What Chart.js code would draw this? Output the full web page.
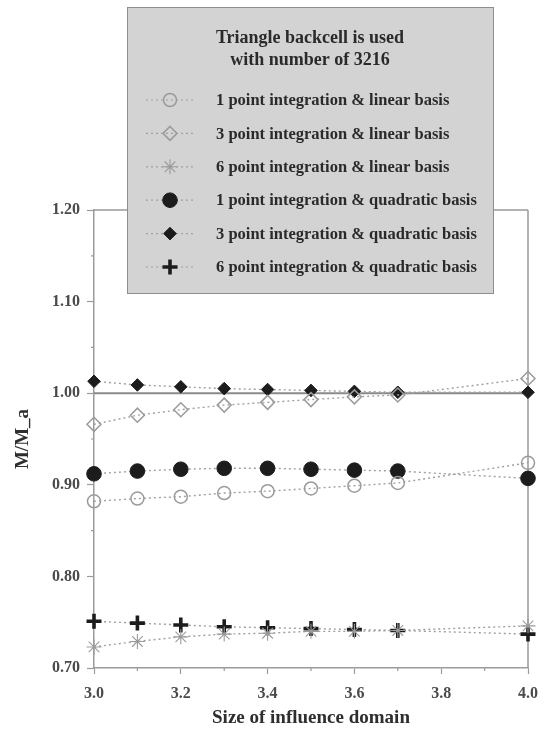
<!DOCTYPE html>
<html>
<head>
<meta charset="utf-8">
<script src="https://cdn.jsdelivr.net/npm/chart.js@4.4.1/dist/chart.umd.min.js"></script>
<style>
  html, body { margin: 0; padding: 0; background: #ffffff; }
  #wrap { width: 548px; height: 729px; }
</style>
</head>
<body>
<div id="wrap"><canvas id="c" width="548" height="729"></canvas></div>
<script>
// Influence-domain sizes (x) and normalised moment M/M_a for each integration scheme
const domainSizes      = [3.0, 3.1, 3.2, 3.3, 3.4, 3.5, 3.6, 3.7, 4.0];
const onePtLinear      = [0.882, 0.885, 0.887, 0.891, 0.893, 0.896, 0.899, 0.902, 0.924];
const threePtLinear    = [0.966, 0.976, 0.982, 0.987, 0.990, 0.993, 0.996, 0.998, 1.016];
const sixPtLinear      = [0.723, 0.729, 0.734, 0.737, 0.738, 0.740, 0.740, 0.741, 0.746];
const onePtQuadratic   = [0.912, 0.915, 0.917, 0.918, 0.918, 0.917, 0.916, 0.915, 0.907];
const threePtQuadratic = [1.013, 1.009, 1.007, 1.005, 1.004, 1.003, 1.002, 1.001, 1.001];
const sixPtQuadratic   = [0.751, 0.749, 0.747, 0.745, 0.744, 0.743, 0.742, 0.741, 0.737];

const seriesLabels = [
  '1 point integration & linear basis',
  '3 point integration & linear basis',
  '6 point integration & linear basis',
  '1 point integration & quadratic basis',
  '3 point integration & quadratic basis',
  '6 point integration & quadratic basis'
];
const legendTitle = ['Triangle backcell is used', 'with number of 3216'];
const xTicks = [3.0, 3.2, 3.4, 3.6, 3.8, 4.0];
const xMinorTicks = [3.1, 3.3, 3.5, 3.7, 3.9];
const yTicks = [0.70, 0.80, 0.90, 1.00, 1.10, 1.20];
const yMinorTicks = [0.75, 0.85, 0.95, 1.05, 1.15];
const referenceValue = 1.00;

const GREY = '#9b9b9b';
const DARK = '#1c1c1c';
const LINE = '#a0a0a0';
const FONT = "'Liberation Serif', 'Times New Roman', serif";

function toPoints(values) {
  return domainSizes.map((x, i) => ({ x: x, y: values[i] }));
}

function series(label, values, style) {
  return {
    label: label,
    data: toPoints(values),
    borderColor: LINE,
    borderWidth: 1.4,
    borderDash: [2, 3],
    fill: false,
    tension: 0,
    clip: false,
    pointStyle: style.shape,
    pointRadius: style.radius,
    pointHoverRadius: style.radius,
    pointBorderWidth: style.width,
    pointBorderColor: style.color,
    pointBackgroundColor: style.fill
  };
}

const styles = [
  { shape: 'circle',  radius: 6.5, width: 1.5, color: GREY, fill: 'rgba(255,255,255,0)' },
  { shape: 'rectRot', radius: 7,   width: 1.5, color: GREY, fill: 'rgba(255,255,255,0)' },
  { shape: 'star',    radius: 7.5, width: 1.1, color: GREY, fill: 'rgba(255,255,255,0)' },
  { shape: 'circle',  radius: 7.3, width: 1,   color: DARK, fill: DARK },
  { shape: 'rectRot', radius: 6.3, width: 1,   color: DARK, fill: DARK },
  { shape: 'cross',   radius: 7.5, width: 3.6, color: DARK, fill: DARK }
];

const valueSets = [onePtLinear, threePtLinear, sixPtLinear, onePtQuadratic, threePtQuadratic, sixPtQuadratic];
const datasets = valueSets.map((v, i) => series(seriesLabels[i], v, styles[i]));

// Frame, reference line at 1.00 and minor ticks
const framePlugin = {
  id: 'frame',
  beforeDatasetsDraw(chart) {
    const { ctx, chartArea: a, scales: { x, y } } = chart;
    ctx.save();
    ctx.strokeStyle = GREY;
    ctx.lineWidth = 1.5;
    ctx.beginPath();
    ctx.moveTo(a.left, a.top); ctx.lineTo(a.right, a.top);
    ctx.moveTo(a.right, a.top); ctx.lineTo(a.right, a.bottom);
    ctx.stroke();

    ctx.lineWidth = 1.2;
    ctx.beginPath();
    xMinorTicks.forEach(v => {
      const px = x.getPixelForValue(v);
      ctx.moveTo(px, a.bottom); ctx.lineTo(px, a.bottom + 3);
    });
    yMinorTicks.forEach(v => {
      const py = y.getPixelForValue(v);
      ctx.moveTo(a.left - 3, py); ctx.lineTo(a.left, py);
    });
    ctx.stroke();

    const ry = y.getPixelForValue(referenceValue);
    ctx.strokeStyle = '#8a8a8a';
    ctx.lineWidth = 2;
    ctx.beginPath();
    ctx.moveTo(a.left, ry); ctx.lineTo(a.right, ry);
    ctx.stroke();
    ctx.restore();
  }
};

function drawMarker(ctx, st, cx, cy) {
  ctx.save();
  ctx.strokeStyle = st.color;
  ctx.fillStyle = st.fill;
  ctx.lineWidth = st.width;
  Chart.helpers.drawPoint(ctx, { pointStyle: st.shape, radius: st.radius, rotation: 0, borderWidth: st.width }, cx, cy);
  ctx.restore();
}

// Boxed legend floating over the top of the plot
const legendBoxPlugin = {
  id: 'legendBox',
  afterDatasetsDraw(chart) {
    const ctx = chart.ctx;
    const box = { left: 127, top: 7, width: 366, height: 286 };
    ctx.save();
    ctx.fillStyle = '#d3d3d3';
    ctx.fillRect(box.left, box.top, box.width, box.height);
    ctx.strokeStyle = '#8e8e8e';
    ctx.lineWidth = 1;
    ctx.strokeRect(box.left + 0.5, box.top + 0.5, box.width, box.height);

    ctx.fillStyle = '#2a2a2a';
    ctx.textAlign = 'center';
    ctx.textBaseline = 'middle';
    ctx.font = 'bold 18px ' + FONT;
    legendTitle.forEach((t, i) => ctx.fillText(t, box.left + box.width / 2, 38 + i * 22));

    ctx.textAlign = 'left';
    ctx.font = 'bold 16.5px ' + FONT;
    chart.data.datasets.forEach((ds, i) => {
      const ry = 100 + i * 33.4;
      ctx.save();
      ctx.strokeStyle = LINE;
      ctx.lineWidth = 1.2;
      ctx.setLineDash([2, 3]);
      ctx.beginPath();
      ctx.moveTo(146, ry); ctx.lineTo(196, ry);
      ctx.stroke();
      ctx.restore();
      drawMarker(ctx, styles[i], 170, ry);
      ctx.fillStyle = '#2a2a2a';
      ctx.fillText(ds.label, 216, ry + 1);
    });
    ctx.restore();
  }
};

new Chart(document.getElementById('c'), {
  type: 'line',
  data: { datasets: datasets },
  plugins: [framePlugin, legendBoxPlugin],
  options: {
    responsive: false,
    animation: false,
    events: [],
    layout: { padding: { top: 210, right: 20, bottom: 0, left: 0 } },
    plugins: { legend: { display: false }, tooltip: { enabled: false } },
    scales: {
      x: {
        type: 'linear',
        min: 3.0,
        max: 4.0,
        afterBuildTicks: s => { s.ticks = xTicks.map(v => ({ value: v })); },
        afterFit: s => { s.height = 61; },
        ticks: {
          callback: v => Number(v).toFixed(1),
          font: { family: FONT, size: 16, weight: 'bold' },
          color: '#4a4a4a',
          padding: 10,
          maxRotation: 0,
          autoSkip: false
        },
        grid: { drawOnChartArea: false, drawTicks: true, tickLength: 6, color: GREY, tickColor: GREY, tickWidth: 1.2 },
        border: { display: true, color: GREY, width: 1.5 },
        title: {
          display: true,
          text: 'Size of influence domain',
          font: { family: FONT, size: 19, weight: 'bold' },
          color: '#2e2e2e',
          padding: { top: 0, bottom: 0 }
        }
      },
      y: {
        type: 'linear',
        min: 0.70,
        max: 1.20,
        afterBuildTicks: s => { s.ticks = yTicks.map(v => ({ value: v })); },
        afterFit: s => { s.width = 94; },
        ticks: {
          callback: v => Number(v).toFixed(2),
          font: { family: FONT, size: 16, weight: 'bold' },
          color: '#4a4a4a',
          padding: 7,
          autoSkip: false
        },
        grid: { drawOnChartArea: false, drawTicks: true, tickLength: 7, color: GREY, tickColor: GREY, tickWidth: 1.2 },
        border: { display: true, color: GREY, width: 1.5 },
        title: {
          display: true,
          text: 'M/M_a',
          font: { family: FONT, size: 19, weight: 'bold' },
          color: '#2e2e2e',
          padding: { top: 12, bottom: 0 }
        }
      }
    }
  }
});
</script>
</body>
</html>
